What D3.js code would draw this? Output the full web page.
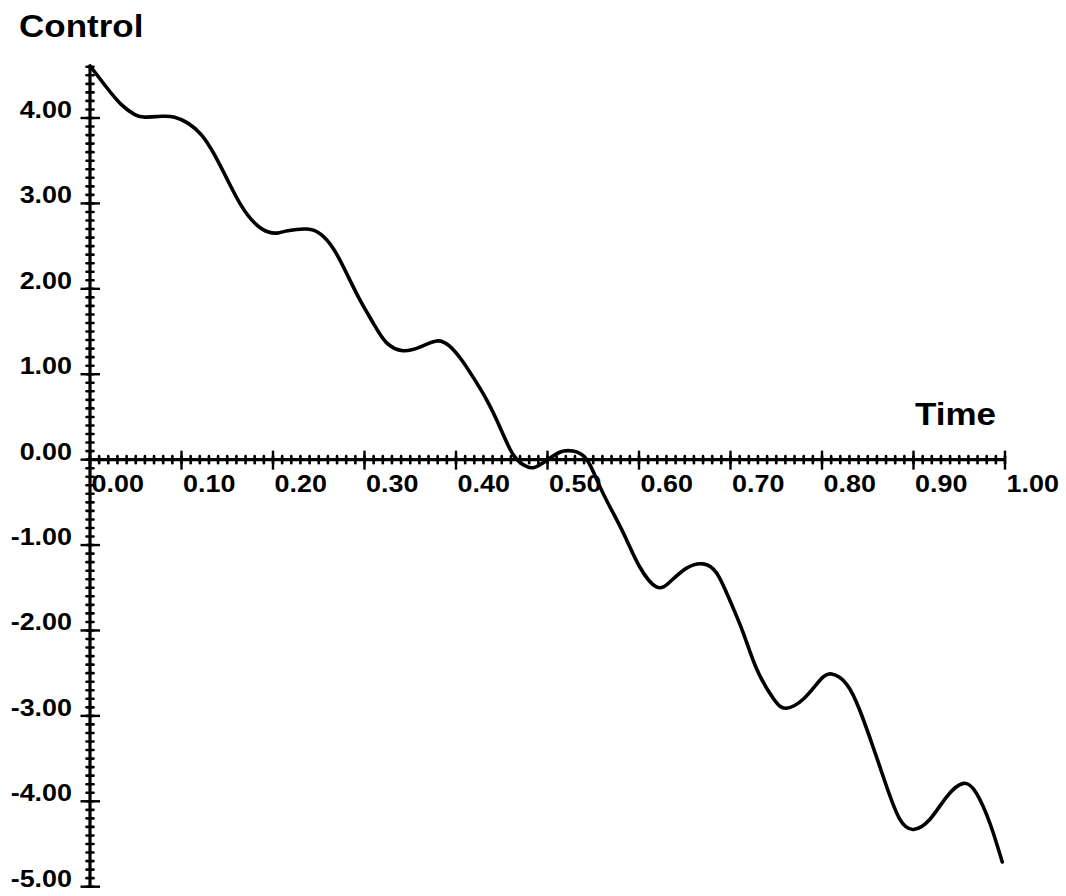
<!DOCTYPE html>
<html>
<head>
<meta charset="utf-8">
<script src="https://cdn.jsdelivr.net/npm/d3@7"></script>
<style>
  html, body { margin: 0; padding: 0; background: #fff; }
  svg { display: block; }
  text { font-family: "Liberation Sans", Arial, Helvetica, sans-serif; font-weight: bold; fill: #000; }
</style>
</head>
<body>
<svg id="chart" width="1066" height="896"></svg>
<script>
// Control signal u(t) over the time interval [0, 1]
const timeValues = [
  0.000, 0.018, 0.034, 0.049, 0.060, 0.078, 0.0925, 0.107, 0.122, 0.136,
  0.151, 0.165, 0.180, 0.195, 0.206, 0.216, 0.237, 0.252, 0.266, 0.2805,
  0.295, 0.310, 0.324, 0.342, 0.361, 0.379, 0.393, 0.406, 0.419, 0.4335,
  0.448, 0.463, 0.477, 0.486, 0.499, 0.514, 0.528, 0.543, 0.557, 0.572,
  0.5865, 0.601, 0.619, 0.634, 0.652, 0.670, 0.685, 0.699, 0.714, 0.7286,
  0.747, 0.761, 0.780, 0.798, 0.8105, 0.827, 0.8415, 0.856, 0.8707, 0.885,
  0.900, 0.918, 0.936, 0.9545, 0.969, 0.9836, 0.997
];
const controlValues = [
  4.61, 4.36, 4.16, 4.04, 4.01, 4.02, 4.01, 3.94, 3.80, 3.57,
  3.26, 2.98, 2.77, 2.665, 2.655, 2.68, 2.70, 2.64, 2.47, 2.18,
  1.87, 1.59, 1.37, 1.275, 1.32, 1.39, 1.33, 1.17, 0.96, 0.70,
  0.38, 0.05, -0.08, -0.09, -0.01, 0.09, 0.10, 0.00, -0.31, -0.63,
  -0.94, -1.26, -1.49, -1.43, -1.27, -1.22, -1.33, -1.64, -2.03, -2.45,
  -2.80, -2.91, -2.80, -2.58, -2.51, -2.63, -2.94, -3.37, -3.83, -4.21,
  -4.33, -4.21, -3.95, -3.79, -3.91, -4.26, -4.71
];

// Axis ticks and labels
const xTickValues = [0, 0.1, 0.2, 0.3, 0.4, 0.5, 0.6, 0.7, 0.8, 0.9, 1.0];
const yTickValues = [4, 3, 2, 1, 0, -1, -2, -3, -4, -5];
const xMinorStep = 0.01;
const yMinorStep = 0.1;
const xTitle = "Time";
const yTitle = "Control";

const svg = d3.select("#chart");

const x = d3.scaleLinear().domain([0, 1]).range([90, 1005]);
const y = d3.scaleLinear().domain([-5, 4]).range([886.7, 118]);

const yTop = d3.max(controlValues);
const fmt = d3.formatLocale({ decimal: ".", thousands: ",", grouping: [3], currency: ["", ""], minus: "-" }).format(".2f");
const fontScaleX = 1.17;

// Minor ticks (the beaded look of the axes)
const xMinor = d3.range(0, 1 + 1e-9, xMinorStep);
const yMinor = d3.range(-5, yTop + 1e-9, yMinorStep);

svg.append("g").selectAll("line").data(xMinor).join("line")
  .attr("x1", d => x(d)).attr("x2", d => x(d))
  .attr("y1", y(0) - 3.5).attr("y2", y(0) + 3.5)
  .attr("stroke", "#000").attr("stroke-width", 2.6).attr("stroke-linecap", "round");

svg.append("g").selectAll("line").data(yMinor).join("line")
  .attr("y1", d => y(d)).attr("y2", d => y(d))
  .attr("x1", x(0) - 3.5).attr("x2", x(0) + 3.5)
  .attr("stroke", "#000").attr("stroke-width", 2.6).attr("stroke-linecap", "round");

// Axis lines
svg.append("line")
  .attr("x1", x(0)).attr("x2", x(1))
  .attr("y1", y(0)).attr("y2", y(0))
  .attr("stroke", "#000").attr("stroke-width", 3.2);
svg.append("line")
  .attr("x1", x(0)).attr("x2", x(0))
  .attr("y1", y(yTop)).attr("y2", y(-5))
  .attr("stroke", "#000").attr("stroke-width", 3.2);

// Major ticks
svg.append("g").selectAll("line").data(xTickValues).join("line")
  .attr("x1", d => x(d)).attr("x2", d => x(d))
  .attr("y1", y(0) - 9).attr("y2", y(0) + 10)
  .attr("stroke", "#000").attr("stroke-width", 2.4);

svg.append("g").selectAll("line").data(yTickValues).join("line")
  .attr("y1", d => y(d)).attr("y2", d => y(d))
  .attr("x1", x(0) - 9.5).attr("x2", x(0) + 10)
  .attr("stroke", "#000").attr("stroke-width", 2.4);

// Tick labels
svg.append("g").selectAll("g").data(yTickValues).join("g")
  .attr("transform", d => `translate(72,${y(d)}) scale(${fontScaleX},1)`)
  .append("text")
  .attr("text-anchor", "end")
  .attr("font-size", 23)
  .text(d => fmt(d));

svg.append("g").selectAll("g").data(xTickValues).join("g")
  .attr("transform", d => `translate(${x(d) + 1.5},${y(0) + 32}) scale(${fontScaleX},1)`)
  .append("text")
  .attr("text-anchor", "start")
  .attr("font-size", 23)
  .text(d => fmt(d));

// Axis titles
svg.append("g")
  .attr("transform", `translate(19,37) scale(1.13,1)`)
  .append("text").attr("font-size", 31).text(yTitle);

svg.append("g")
  .attr("transform", `translate(915,425) scale(1.13,1)`)
  .append("text").attr("font-size", 31).text(xTitle);

// Control curve
const points = timeValues.map((t, i) => [t, controlValues[i]]);
const line = d3.line()
  .x(d => x(d[0]))
  .y(d => y(d[1]))
  .curve(d3.curveNatural);

svg.append("path")
  .datum(points)
  .attr("d", line)
  .attr("fill", "none")
  .attr("stroke", "#000")
  .attr("stroke-width", 3.6)
  .attr("stroke-linejoin", "round")
  .attr("stroke-linecap", "round");
</script>
</body>
</html>
